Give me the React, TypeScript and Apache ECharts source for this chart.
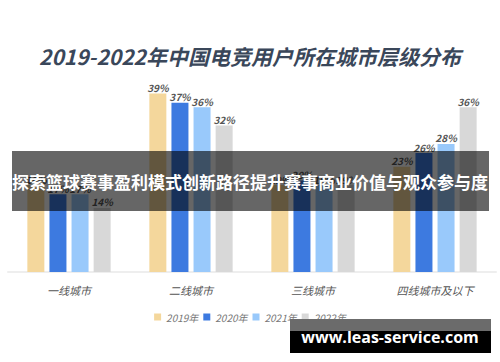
import React, { useEffect, useRef } from "react";
import * as echarts from "echarts";

const categories = ["一线城市", "二线城市", "三线城市", "四线城市及以下"];
const years = ["2019年", "2020年", "2021年", "2022年"];
const values2019 = [19, 39, 19, 23];
const values2020 = [17, 37, 20, 26];
const values2021 = [17, 36, 19, 28];
const values2022 = [14, 32, 19, 36];
const seriesValues = [values2019, values2020, values2021, values2022];
const colors = ["#f4d79c", "#3d7ae0", "#99c9fb", "#d8d8d8"];

const titleText = "2019-2022年中国电竞用户所在城市层级分布";
const bannerText = "探索篮球赛事盈利模式创新路径提升赛事商业价值与观众参与度";
const watermarkText = "www.leas-service.com";

export default function App() {
  const ref = useRef<HTMLDivElement>(null);
  useEffect(() => {
    document.body.style.margin = "0";
    const chart = echarts.init(ref.current!, null, { renderer: "svg" });
    const font = "'Noto Sans CJK SC', 'Noto Sans', sans-serif";
    chart.setOption({
      animation: false,
      backgroundColor: "#ffffff",
      textStyle: { fontFamily: font },
      title: {
        text: titleText,
        left: "center",
        top: 40,
        textStyle: {
          fontSize: 21,
          fontWeight: "bold",
          fontStyle: "italic",
          color: "#3a475a",
          fontFamily: font,
        },
      },
      legend: {
        data: years,
        top: 307,
        left: "center",
        icon: "rect",
        itemWidth: 7,
        itemHeight: 7,
        itemGap: 5,
        textStyle: { fontSize: 10, fontStyle: "italic", color: "#777", fontFamily: font },
      },
      grid: { left: 8, right: 4, top: 89, bottom: 90 },
      xAxis: {
        type: "category",
        data: categories,
        axisLine: { lineStyle: { color: "#eeeeee", width: 2 } },
        axisTick: { show: false },
        axisLabel: {
          fontSize: 11,
          fontStyle: "italic",
          color: "#555",
          margin: 12,
          fontFamily: font,
        },
      },
      yAxis: {
        type: "value",
        min: 0,
        max: 40,
        show: false,
        splitLine: { show: false },
      },
      series: years.map((y, i) => ({
        name: y,
        type: "bar",
        data: seriesValues[i],
        barWidth: 17,
        barGap: "30%",
        itemStyle: { color: colors[i] },
        label: {
          show: true,
          position: "top",
          distance: 1,
          formatter: "{c}%",
          fontSize: 10,
          fontStyle: "italic",
          fontWeight: "bold",
          color: "#555",
          fontFamily: font,
        },
      })),
      graphic: [
        {
          type: "rect",
          shape: { x: 12, y: 151, width: 477, height: 60 },
          style: { fill: "rgba(0,0,0,0.6)" },
          z: 100,
        },
        {
          type: "text",
          x: 250,
          y: 181,
          style: {
            text: bannerText,
            fill: "#ffffff",
            fontSize: 17,
            fontWeight: "bold",
            fontFamily: font,
            align: "center",
            verticalAlign: "middle",
          },
          z: 101,
        },
        {
          type: "rect",
          shape: { x: 290, y: 319, width: 201, height: 12 },
          style: { fill: "#6b6b6b" },
          z: 100,
        },
        {
          type: "rect",
          shape: { x: 290, y: 331, width: 201, height: 22 },
          style: { fill: "#000000" },
          z: 100,
        },
        {
          type: "text",
          x: 390,
          y: 337,
          style: {
            text: watermarkText,
            fill: "#ffffff",
            fontSize: 16,
            fontWeight: "bold",
            fontFamily: "'Open Sans', 'DejaVu Sans', sans-serif",
            align: "center",
            verticalAlign: "middle",
          },
          z: 101,
        },
      ],
    });
    return () => chart.dispose();
  }, []);
  return <div ref={ref} style={{ width: 500, height: 362 }} />;
}
